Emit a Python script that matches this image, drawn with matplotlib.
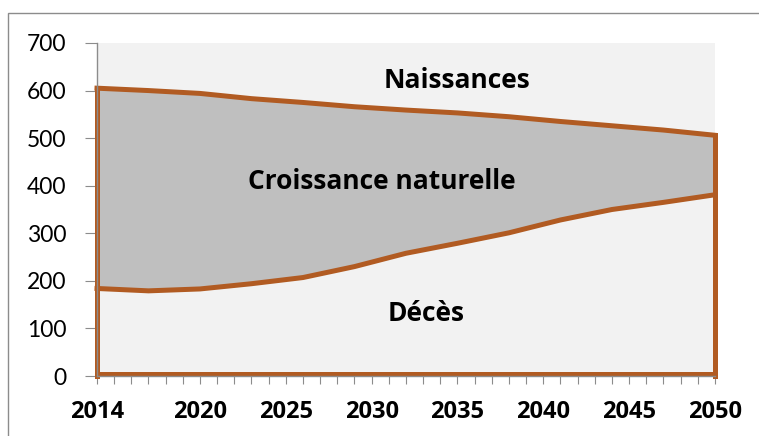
import matplotlib
matplotlib.use("Agg")
import matplotlib.pyplot as plt
from matplotlib.patches import Rectangle

# data (thousands)
years = [2014, 2017, 2020, 2023, 2026, 2029, 2032, 2035, 2038, 2041, 2044, 2047, 2050]
naissances = [605, 600, 594, 583, 575, 566, 559, 553, 545, 535, 526, 517, 506]
deces = [184, 179, 183, 194, 207, 230, 258, 279, 301, 328, 350, 365, 381]

tick_years = list(range(2014, 2051))
labelled = [2014, 2020, 2025, 2030, 2035, 2040, 2045, 2050]
y_ticks = [0, 100, 200, 300, 400, 500, 600, 700]

brown = "#B15B22"
fill_gray = "#BFBFBF"
bg = "#F2F2F2"
axis_gray = "#8C8C8C"

plt.rcParams['font.family'] = ['Lato', 'DejaVu Sans']
bold_font = ['Open Sans', 'DejaVu Sans']

fig = plt.figure(figsize=(7.59, 4.36), dpi=100)
ax = fig.add_axes([0.1278, 0.1376, 0.942 - 0.1278, 0.9014 - 0.1376])
ax.set_facecolor(bg)

# outer chart frame (right and bottom edges fall outside the picture)
fig.patches.append(Rectangle((8 / 759, -0.1), 1.2, 1.1 - 13 / 436,
                             transform=fig.transFigure, fill=False,
                             edgecolor=axis_gray, linewidth=1.0))

ax.fill_between(years, deces, naissances, color=fill_gray, linewidth=0)

lw = 3.6
ax.plot(years, naissances, color=brown, lw=lw, solid_joinstyle='round', clip_on=False)
ax.plot(years, deces, color=brown, lw=lw, solid_joinstyle='round', clip_on=False)
ax.plot([years[0], years[0]], [0, naissances[0]], color=brown, lw=lw, clip_on=False)
ax.plot([years[-1], years[-1]], [0, naissances[-1]], color=brown, lw=lw, clip_on=False)
ax.plot([years[0], years[-1]], [5, 5], color=brown, lw=lw, clip_on=False)

ax.set_xlim(2014, 2050)
ax.set_ylim(0, 700)

ax.set_xticks(tick_years)
ax.set_xticklabels([str(y) if y in labelled else "" for y in tick_years],
                   fontsize=17, fontweight='bold', family=bold_font)
ax.set_yticks(y_ticks)
ax.set_yticklabels([str(v) for v in y_ticks], fontsize=16.5)
ax.tick_params(axis='x', direction='out', length=6, color=axis_gray, pad=11)
ax.tick_params(axis='y', direction='out', length=9, color=axis_gray, pad=13)

for side in ['top', 'right']:
    ax.spines[side].set_visible(False)
for side in ['left', 'bottom']:
    ax.spines[side].set_color(axis_gray)
    ax.spines[side].set_linewidth(1.0)

ax.text(2035.0, 622, "Naissances", ha='center', va='center', fontsize=19,
        fontweight='bold', family=bold_font)
ax.text(2030.6, 408, "Croissance naturelle", ha='center', va='center', fontsize=19,
        fontweight='bold', family=bold_font)
ax.text(2033.2, 132, "Décès", ha='center', va='center', fontsize=19,
        fontweight='bold', family=bold_font)

fig.savefig("out.png", dpi=100)
